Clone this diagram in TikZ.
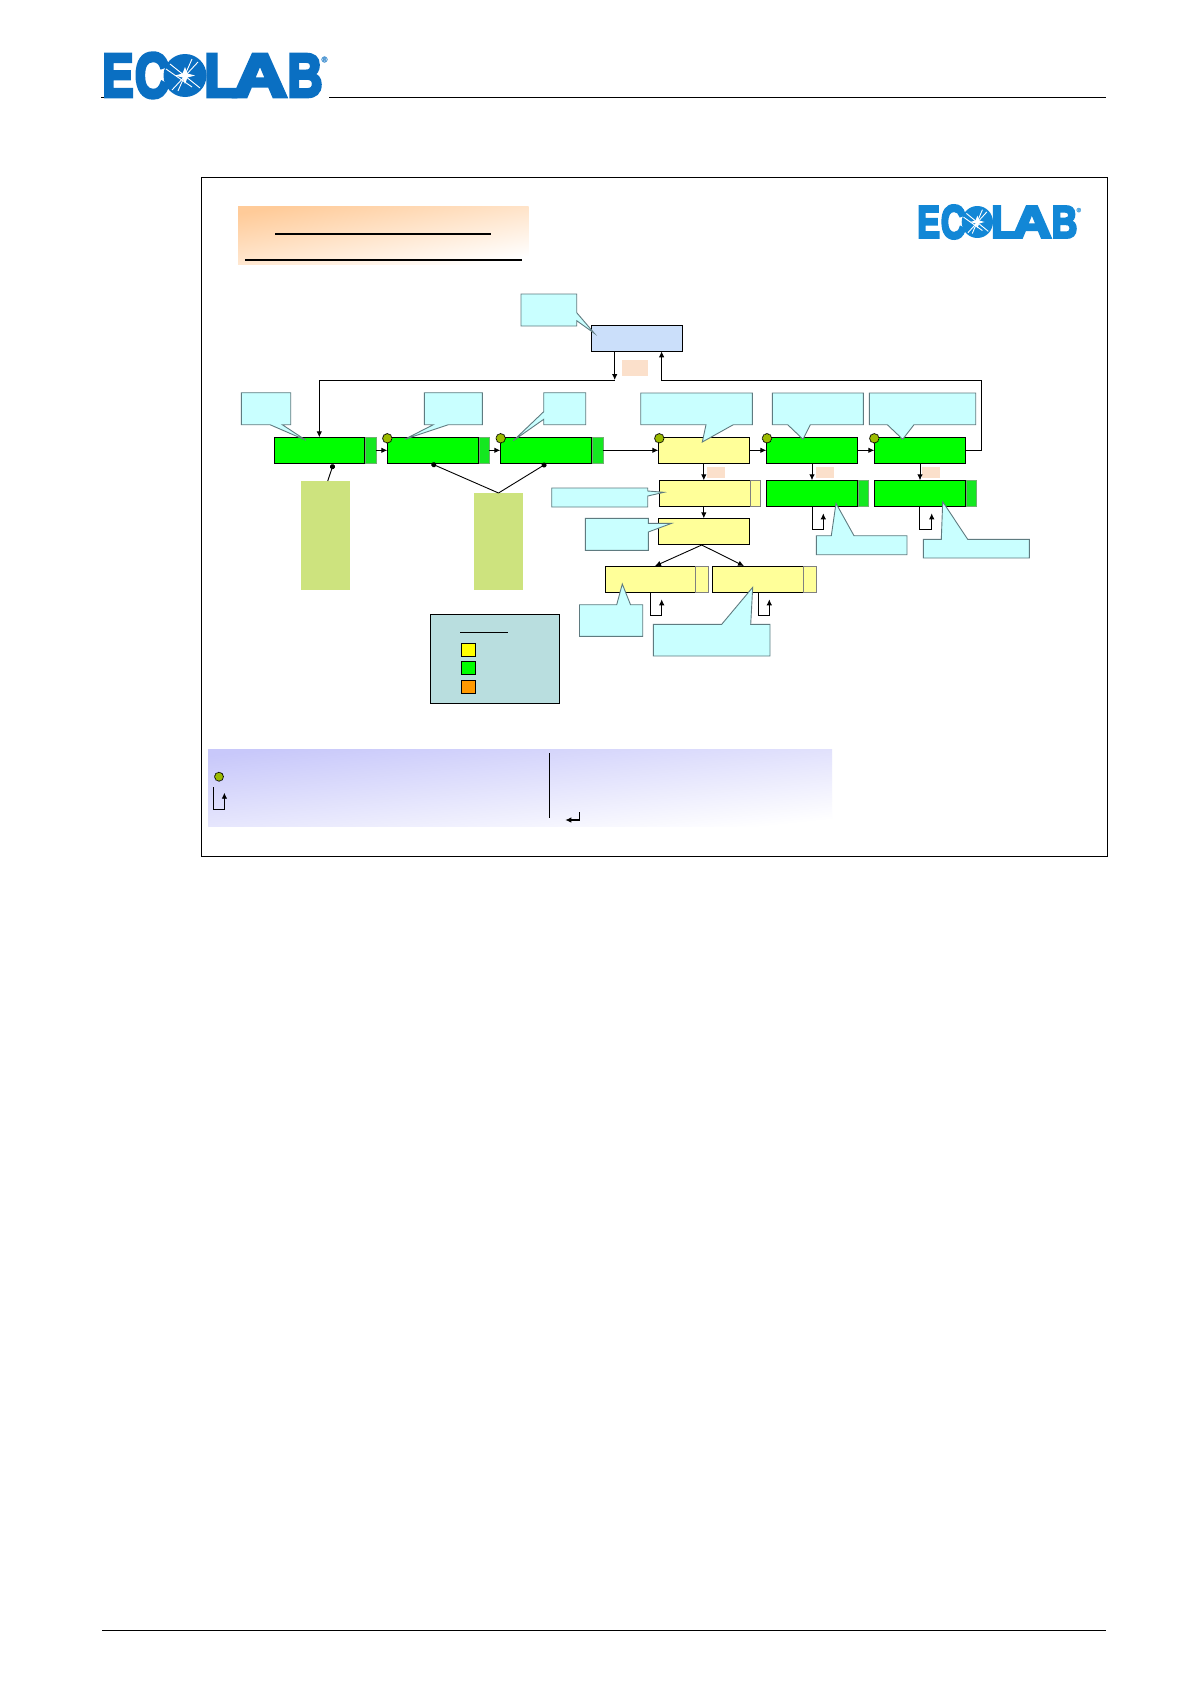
\documentclass[tikz,border=0pt]{standalone}
\usepackage{fontspec}
\usepackage{graphicx}
\usetikzlibrary{arrows.meta,calc}
\newfontfamily\logofont[FakeBold=6]{Liberation Sans}
\definecolor{logoA}{HTML}{0A6FC2}
\definecolor{logoB}{HTML}{1287D6}
\definecolor{callfill}{HTML}{C9FFFF}
\definecolor{calledge}{HTML}{5F7B80}
\definecolor{boxgreen}{HTML}{00FF00}
\definecolor{tabgreen}{HTML}{14E820}
\definecolor{tabedge}{HTML}{70B070}
\definecolor{boxyellow}{HTML}{FFFF99}
\definecolor{boxblue}{HTML}{CBDFFA}
\definecolor{palegreen}{HTML}{CDE37E}
\definecolor{paleorange}{HTML}{FBE0CB}
\definecolor{legendfill}{HTML}{B9DEDF}
\definecolor{dotfill}{HTML}{9BBB00}
\definecolor{titleorange}{HTML}{FFCB99}
\definecolor{bandblue}{HTML}{C8C8FA}
\definecolor{swyellow}{HTML}{FFFF00}
\definecolor{sworange}{HTML}{FF9900}
\tikzset{
  x=1pt,y=-1pt,
  bxbase/.style={rectangle,inner sep=0pt,outer sep=0pt},
  greenbox/.style={bxbase,draw=black,line width=1pt,fill=boxgreen},
  yellowbox/.style={bxbase,draw=black,line width=1pt,fill=boxyellow},
  bluebox/.style={bxbase,draw=black,line width=1pt,fill=boxblue},
  greentab/.style={bxbase,draw=tabedge,line width=.4pt,fill=tabgreen},
  yellowtab/.style={bxbase,draw=gray,line width=.5pt,fill=boxyellow},
  noteblock/.style={bxbase,fill=palegreen},
  tagblock/.style={bxbase,fill=paleorange},
  legendbox/.style={bxbase,draw=black,line width=1pt,fill=legendfill},
  swatch/.style={bxbase,draw=black,line width=.8pt},
  callout/.style={draw=calledge,line width=.9pt,fill=callfill,line join=miter},
  conn/.style={draw=black,line width=.9pt},
  arr/.style={conn,-{Latex[length=6pt,width=5.5pt]}},
  lead/.style={conn,{Circle[length=5pt,width=5pt]}-},
  rule/.style={draw=black,line width=1pt},
  hdrule/.style={draw=black,line width=1.8pt},
  gdot/.style={circle,inner sep=0pt,outer sep=0pt,minimum size=9.5pt,fill=dotfill,draw=black,line width=.8pt,dash pattern=on 1.2pt off .5pt},
  letter/.style={inner sep=0pt,outer sep=0pt,text=logoC},
}
\newcommand{\bx}[6]{%
  \pgfmathsetmacro\cxa{(#3+#5)/2}\pgfmathsetmacro\cya{(#4+#6)/2}%
  \pgfmathsetmacro\wa{#5-#3}\pgfmathsetmacro\ha{#6-#4}%
  \node[#1,minimum width=\wa pt,minimum height=\ha pt] (#2) at (\cxa,\cya) {};}
\newcommand{\lgletter}[5]{\node[letter] (#1) at (#2,21.5) {\resizebox{#3pt}{#4pt}{\logofont\bfseries #5}};}
\newcommand{\logo}[6]{% prefix x y sx sy colour
  \colorlet{logoC}{#6}%
  \begin{scope}[shift={(#2,#3)},xscale=#4,yscale=#5,transform shape]
    \lgletter{#1e}{16}{31}{42}{E}
    \lgletter{#1c}{50}{34}{44}{C}
    \lgletter{#1l}{119}{33}{42}{L}
    \lgletter{#1a}{158}{54}{42}{A}
    \lgletter{#1b}{203}{35}{42}{B}
    \fill[logoC] (83,21.5) circle[radius=21.5];
    \draw[white,line width=.9pt] (68,10) -- (98,34) (96,8) -- (70,36);
    \draw[white,line width=.9pt] (64,15) -- (90,33) (90,5) -- (76,37);
    \fill[white] (83,13) -- (85.5,19.5) -- (93,21.5) -- (85.5,23.5) -- (83,30) -- (80.5,23.5) -- (73,21.5) -- (80.5,19.5) -- cycle;
    \node[inner sep=0pt,text=logoC!70,font=\logofont\fontsize{8}{8}\selectfont] (#1r) at (222.5,5.5) {®};
  \end{scope}}
\begin{document}
\begin{tikzpicture}
\useasboundingbox (0,0) rectangle (1191,1684);
\fill[white] (0,0) rectangle (1191,1684);
% page furniture
\coordinate (hdA) at (329,97); \coordinate (hdB) at (1106,97);
\coordinate (hdC) at (101,97); \coordinate (hdD) at (104,97);
\coordinate (ftA) at (102,1630); \coordinate (ftB) at (1106,1630);
\draw[rule] (hdA) -- (hdB);
\draw[rule] (hdC) -- (hdD);
\draw[rule] (ftA) -- (ftB);
\logo{la}{102}{54}{1}{1}{logoA}
\bx{bxbase,draw=black,line width=1pt}{frame}{201}{177}{1107.5}{856}
\logo{lb}{917}{206}{.727}{.744}{logoB}
% title band
\bx{bxbase,top color=titleorange,bottom color=white,shading angle=10}{title}{238}{206}{528.5}{264}
\coordinate (tA) at (275,233.7); \coordinate (tB) at (491,233.7);
\coordinate (tC) at (245,259.7); \coordinate (tD) at (522,259.7);
\draw[hdrule] (tA) -- (tB);
\draw[hdrule] (tC) -- (tD);
% top box
\bx{bluebox}{top}{591.3}{325.3}{682.5}{351.3}
\bx{tagblock}{tagT}{622}{360}{647.5}{376}
% main row
\bx{greenbox}{ga}{274.3}{437.3}{364.7}{463.3}
\bx{greentab}{gat}{364.7}{437.3}{375.7}{463.3}
\bx{greenbox}{gb}{387.3}{437.3}{478.7}{463.3}
\bx{greentab}{gbt}{478.7}{437.3}{488.7}{463.3}
\bx{greenbox}{gc}{500.3}{437.3}{591.7}{463.3}
\bx{greentab}{gct}{591.7}{437.3}{602.7}{463.3}
\bx{yellowbox}{ya}{658.3}{437.3}{749.3}{463.3}
\bx{greenbox}{gd}{766.3}{437.3}{857.7}{463.3}
\bx{greenbox}{ge}{874.3}{437.3}{965.7}{463.3}
% second row
\bx{yellowbox}{yb}{659.3}{480.3}{750.7}{506.3}
\bx{yellowtab}{ybt}{750.7}{480.3}{760.7}{506.3}
\bx{greenbox}{gf}{766.3}{480.3}{857.7}{506.3}
\bx{greentab}{gft}{857.7}{480.3}{867.7}{506.3}
\bx{greenbox}{gg}{874.3}{480.3}{965.7}{506.3}
\bx{greentab}{ggt}{965.7}{480.3}{975.7}{506.3}
\bx{tagblock}{tagA}{707.3}{467.3}{724.7}{478}
\bx{tagblock}{tagB}{816.3}{467.3}{834}{478}
\bx{tagblock}{tagC}{922.3}{467.3}{940}{478}
% third and fourth rows
\bx{yellowbox}{yc}{658.3}{518.3}{749.3}{544.3}
\bx{yellowbox}{yd}{605.5}{566.3}{695.7}{592.3}
\bx{yellowtab}{ydt}{695.7}{566.3}{708.3}{592.3}
\bx{yellowbox}{ye}{712.3}{566.3}{803.7}{592.3}
\bx{yellowtab}{yet}{803.7}{566.3}{816.7}{592.3}
% pale notes
\bx{noteblock}{na}{301}{481}{350}{590}
\bx{noteblock}{nb}{474}{493}{523}{590}
% connectors of the main flow
\coordinate (topjoin) at (614.7,380);
\coordinate (gaTop) at (319.3,437.3);
\coordinate (topOut) at (614.7,351.3);
\draw[arr] (topOut) -- (topjoin);
\draw[arr] (topjoin) -| (gaTop);
\coordinate (retTop) at (661.6,351.3);
\coordinate (retRight) at (981.7,380);
\draw[arr] (ge.east) -| (retRight) -| (retTop);
\draw[arr] (gat.east) -- (gb.west);
\draw[arr] (gbt.east) -- (gc.west);
\draw[arr] (gct.east) -- (ya.west);
\draw[arr] (ya.east) -- (gd.west);
\draw[arr] (gd.east) -- (ge.west);
\draw[arr] (ya.south) -- (yb.north -| ya.south);
\draw[arr] (gd.south) -- (gf.north);
\draw[arr] (ge.south) -- (gg.north);
\draw[arr] (yb.south -| yc.north) -- (yc.north);
\coordinate (ycBranch) at (701.7,545);
\coordinate (ydIn) at (655,566);
\coordinate (yeIn) at (744,566);
\draw[arr] (ycBranch) -- (ydIn);
\draw[arr] (ycBranch) -- (yeIn);
% self loops
\coordinate (lfA) at (812.3,529.3); \coordinate (lfB) at (823.3,513.3);
\draw[arr] (gf.south -| lfA) -- (lfA) -| (lfB);
\coordinate (lgA) at (919.7,529.3); \coordinate (lgB) at (931.7,513.3);
\draw[arr] (gg.south -| lgA) -- (lgA) -| (lgB);
\coordinate (ldS) at (650.3,592.3); \coordinate (ldA) at (650.3,615.3); \coordinate (ldB) at (661.7,599.3);
\draw[arr] (ldS) -- (ldA) -| (ldB);
\coordinate (leS) at (758.3,592.3); \coordinate (leA) at (758.3,615.3); \coordinate (leB) at (769.3,599.3);
\draw[arr] (leS) -- (leA) -| (leB);
% leads from notes
\coordinate (laEnd) at (333.3,464.3); \coordinate (laStart) at (327.7,481);
\draw[lead] (laEnd) -- (laStart);
\coordinate (lbEnd) at (431.5,463.7); \coordinate (lcEnd) at (546.2,463.7);
\draw[lead] (lbEnd) -- (nb.north);
\draw[lead] (lcEnd) -- (nb.north);
% green dots
\node[gdot] (da) at (387.3,438.3) {};
\node[gdot] (db) at (500.7,438.3) {};
\node[gdot] (dc) at (659.3,438.3) {};
\node[gdot] (dd) at (767,438.3) {};
\node[gdot] (de) at (874.3,438.3) {};
% callouts
\draw[callout] (521,294) -- (576.7,294) -- (576.7,312.7) -- (594.3,333.3) -- (576.7,320.7) -- (576.7,326) -- (521,326) -- cycle;
\draw[callout] (241.3,392.7) -- (290.7,392.7) -- (290.7,424.7) -- (282.3,424.7) -- (306,440.3) -- (270,424.7) -- (241.3,424.7) -- cycle;
\draw[callout] (424.3,392.7) -- (482.3,392.7) -- (482.3,424.7) -- (448.3,424.7) -- (404.7,439.3) -- (433.3,424.7) -- (424.3,424.7) -- cycle;
\draw[callout] (543.7,392.7) -- (585.7,392.7) -- (585.7,424.7) -- (543.7,424.7) -- (543.7,419.3) -- (513.3,440.7) -- (543.7,411.7) -- cycle;
\draw[callout] (640.7,393) -- (752.3,393) -- (752.3,424.7) -- (733.3,424.7) -- (702.3,442) -- (706,424.7) -- (640.7,424.7) -- cycle;
\draw[callout] (772.3,393) -- (863.3,393) -- (863.3,424.7) -- (810.3,424.7) -- (803,439.3) -- (787.7,424.7) -- (772.3,424.7) -- cycle;
\draw[callout] (869.3,393) -- (975.7,393) -- (975.7,424.7) -- (914,424.7) -- (902.7,439.3) -- (887.3,424.7) -- (869.3,424.7) -- cycle;
\draw[callout] (551.7,488) -- (647.7,488) -- (647.7,491) -- (664,492.3) -- (647.7,496) -- (647.7,507) -- (551.7,507) -- cycle;
\draw[callout] (585.3,518.3) -- (648.3,518.3) -- (648.3,523.3) -- (671.7,523.3) -- (648.3,532) -- (648.3,550.3) -- (585.3,550.3) -- cycle;
\draw[callout] (816.3,535.7) -- (831.3,535.7) -- (836,503.3) -- (854,535.7) -- (907,535.7) -- (907,554.7) -- (816.3,554.7) -- cycle;
\draw[callout] (923.3,539.3) -- (941.3,539.3) -- (942.7,501.7) -- (967.7,539.3) -- (1029.3,539.3) -- (1029.3,558) -- (923.3,558) -- cycle;
\draw[callout] (653.3,624.3) -- (721.7,624.3) -- (752.7,587.3) -- (750.7,624.3) -- (770,624.3) -- (770,656) -- (653.3,656) -- cycle;
\draw[callout] (579.5,604.7) -- (616.7,604.7) -- (622.3,584) -- (630.5,604.7) -- (642.7,604.7) -- (642.7,636.3) -- (579.5,636.3) -- cycle;
% legend
\bx{legendbox}{legend}{430}{614.3}{559.4}{703.7}
\coordinate (luA) at (460,632.3); \coordinate (luB) at (508,632.3);
\draw[rule,line width=.8pt] (luA) -- (luB);
\bx{swatch,fill=swyellow}{sa}{461}{643.3}{475}{656.7}
\bx{swatch,fill=boxgreen}{sb}{461}{661.3}{475}{674.7}
\bx{swatch,fill=sworange}{sc}{461}{680.3}{475}{693.7}
% key band
\bx{bxbase,top color=bandblue,bottom color=white,shading angle=6}{band}{208}{749}{832}{826}
\coordinate (dvA) at (549.3,753); \coordinate (dvB) at (549.3,818);
\draw[conn] (dvA) -- (dvB);
\node[gdot,minimum size=9pt] (keydot) at (219,776.7) {};
\coordinate (kA) at (213.5,787); \coordinate (kB) at (213.5,809.7); \coordinate (kC) at (224.4,792.7);
\draw[arr] (kA) -- (kB) -| (kC);
\coordinate (rA) at (579.6,812); \coordinate (rB) at (579.6,820); \coordinate (rC) at (565.3,820);
\draw[arr,line width=1.1pt] (rA) -- (rB) -- (rC);
\end{tikzpicture}
\end{document}
